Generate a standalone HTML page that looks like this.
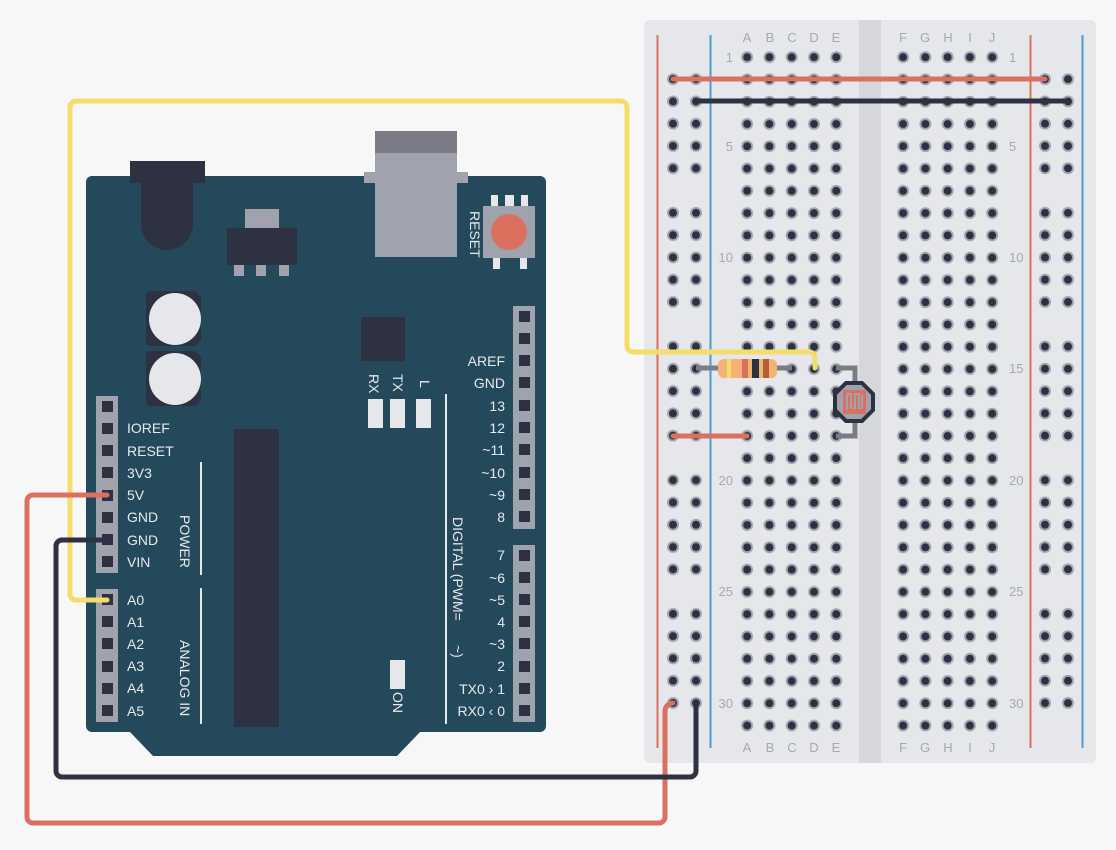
<!DOCTYPE html>
<html><head><meta charset="utf-8"><style>
html,body{margin:0;padding:0;background:#f7f7f7;}
svg{display:block;font-family:"Liberation Sans",sans-serif;}
.lb{fill:#e8e9ec;font-size:14px;}
.bb{fill:#a6a8b3;font-size:13px;}
</style></head><body>
<svg width="1116" height="850" viewBox="0 0 1116 850" xmlns="http://www.w3.org/2000/svg">
<defs>
<pattern id="h" x="736" y="46" width="22.28" height="22.28" patternUnits="userSpaceOnUse">
<circle cx="11.14" cy="11.14" r="6" fill="#a3a5b0"/><circle cx="11.14" cy="11.14" r="4" fill="#2d3142"/>
</pattern>
<pattern id="hr" x="662" y="68" width="23" height="22.28" patternUnits="userSpaceOnUse">
<circle cx="11" cy="11.14" r="6" fill="#a3a5b0"/><circle cx="11" cy="11.14" r="4" fill="#2d3142"/>
</pattern>
<pattern id="hr2" x="1034" y="68" width="23" height="22.28" patternUnits="userSpaceOnUse">
<circle cx="11" cy="11.14" r="6" fill="#a3a5b0"/><circle cx="11" cy="11.14" r="4" fill="#2d3142"/>
</pattern>
</defs>
<rect width="1116" height="850" fill="#f7f7f7"/>
<!-- breadboard -->
<rect x="644" y="20" width="452" height="743" rx="6" fill="#e6e7ea"/>
<rect x="859" y="20" width="22" height="743" fill="#d6d7da"/>
<line x1="657.5" y1="35" x2="657.5" y2="748" stroke="#dc705e" stroke-width="2"/>
<line x1="710.5" y1="35" x2="710.5" y2="748" stroke="#4a9ccc" stroke-width="2"/>
<line x1="1030.5" y1="35" x2="1030.5" y2="748" stroke="#dc705e" stroke-width="2"/>
<line x1="1082.5" y1="35" x2="1082.5" y2="748" stroke="#4a9ccc" stroke-width="2"/>
<rect x="736" y="46" width="111.4" height="690.7" fill="url(#h)"/>
<rect x="892" y="46" width="111.4" height="690.7" fill="url(#h)"/>
<g fill="url(#hr)">
<rect x="662" y="68" width="46" height="111.4"/><rect x="662" y="201.7" width="46" height="111.4"/>
<rect x="662" y="335.4" width="46" height="111.4"/><rect x="662" y="469" width="46" height="111.4"/>
<rect x="662" y="602.7" width="46" height="111.4"/>
</g>
<g fill="url(#hr2)">
<rect x="1034" y="68" width="46" height="111.4"/><rect x="1034" y="201.7" width="46" height="111.4"/>
<rect x="1034" y="335.4" width="46" height="111.4"/><rect x="1034" y="469" width="46" height="111.4"/>
<rect x="1034" y="602.7" width="46" height="111.4"/>
</g>
<g class="bb" text-anchor="middle">
<text x="747" y="42">A</text><text x="770" y="42">B</text><text x="792" y="42">C</text><text x="814" y="42">D</text><text x="836" y="42">E</text>
<text x="903" y="42">F</text><text x="925" y="42">G</text><text x="948" y="42">H</text><text x="970" y="42">I</text><text x="992" y="42">J</text>
<text x="747" y="752">A</text><text x="770" y="752">B</text><text x="792" y="752">C</text><text x="814" y="752">D</text><text x="836" y="752">E</text>
<text x="903" y="752">F</text><text x="925" y="752">G</text><text x="948" y="752">H</text><text x="970" y="752">I</text><text x="992" y="752">J</text>
</g>
<g class="bb" text-anchor="end">
<text x="733" y="62">1</text><text x="733" y="151">5</text><text x="733" y="262">10</text><text x="733" y="373">15</text><text x="733" y="485">20</text><text x="733" y="596">25</text><text x="733" y="708">30</text>
</g>
<g class="bb" text-anchor="start">
<text x="1009" y="62">1</text><text x="1009" y="151">5</text><text x="1009" y="262">10</text><text x="1009" y="373">15</text><text x="1009" y="485">20</text><text x="1009" y="596">25</text><text x="1009" y="708">30</text>
</g>
<!-- arduino -->
<path d="M92,176 H540 a6,6 0 0 1 6,6 V726 a6,6 0 0 1 -6,6 H420 L397,756 H153 L130,732 H92 a6,6 0 0 1 -6,-6 V182 a6,6 0 0 1 6,-6Z" fill="#24495b"/>
<rect x="130" y="161" width="75" height="22" fill="#2d3142"/>
<path d="M141,183 H193 V224 a26,26 0 0 1 -52,0Z" fill="#2d3142"/>
<rect x="245" y="209" width="34" height="20" fill="#a0a2ad"/>
<rect x="227" y="228" width="70" height="37" fill="#2d3142"/>
<rect x="234" y="265" width="10" height="11" fill="#a0a2ad"/><rect x="256" y="265" width="10" height="11" fill="#a0a2ad"/><rect x="279" y="265" width="10" height="11" fill="#a0a2ad"/>
<rect x="364" y="172" width="104" height="11" fill="#a0a2ad"/>
<rect x="375" y="131" width="82" height="126" fill="#a0a2ad"/>
<rect x="375" y="131" width="82" height="22" fill="#7b7c86"/>
<rect x="491" y="195" width="7" height="12" fill="#e6e7ea"/><rect x="505" y="195" width="9" height="12" fill="#e6e7ea"/><rect x="521" y="195" width="7" height="12" fill="#e6e7ea"/>
<rect x="493" y="257" width="7" height="12" fill="#e6e7ea"/><rect x="520" y="257" width="7" height="12" fill="#e6e7ea"/>
<rect x="483" y="206" width="52" height="52" fill="#a0a2ad"/>
<circle cx="509" cy="232" r="18" fill="#dc705e"/>
<text class="lb" transform="translate(470,211) rotate(90)" font-size="13">RESET</text>
<path d="M150,291 H195 L201,297 V340 L195,346 H150 a4,4 0 0 1 -4,-4 V295 a4,4 0 0 1 4,-4Z" fill="#2d3142"/>
<path d="M150,351 H195 L201,357 V400 L195,406 H150 a4,4 0 0 1 -4,-4 V355 a4,4 0 0 1 4,-4Z" fill="#2d3142"/>
<circle cx="175" cy="319" r="26" fill="#e6e7ea"/><circle cx="175" cy="379" r="26" fill="#e6e7ea"/>
<rect x="361" y="317" width="44" height="44" fill="#2d3142"/>
<text class="lb" transform="translate(369,374) rotate(90)" font-size="13">RX</text>
<text class="lb" transform="translate(393,374) rotate(90)" font-size="13">TX</text>
<text class="lb" transform="translate(420,380) rotate(90)" font-size="13">L</text>
<rect x="368" y="399" width="15" height="29" fill="#e6e7ea"/><rect x="390" y="399" width="15" height="29" fill="#e6e7ea"/><rect x="416" y="399" width="15" height="29" fill="#e6e7ea"/>
<rect x="234" y="429" width="45" height="298" fill="#2d3142"/>
<g stroke="#e6e7ea" stroke-width="2">
<line x1="201" y1="462" x2="201" y2="575"/><line x1="201" y1="588" x2="201" y2="724"/><line x1="446" y1="394" x2="446" y2="724"/>
</g>
<text class="lb" transform="translate(180,515) rotate(90)" font-size="13">POWER</text>
<text class="lb" transform="translate(180,640) rotate(90)" font-size="13">ANALOG IN</text>
<text class="lb" transform="translate(453,517) rotate(90)" font-size="13">DIGITAL (PWM=</text>
<text class="lb" transform="translate(453,645) rotate(90)" font-size="13">~)</text>
<rect x="390" y="660" width="15" height="29" fill="#e6e7ea"/>
<text class="lb" transform="translate(393,692) rotate(90)" font-size="13">ON</text>
<!-- headers -->
<rect x="96" y="396" width="22" height="177" fill="#a0a2ad"/>
<rect x="96" y="589" width="22" height="133" fill="#a0a2ad"/>
<rect x="513" y="306" width="22" height="223" fill="#a0a2ad"/>
<rect x="513" y="545" width="22" height="177" fill="#a0a2ad"/>
<g fill="#2d3142">
<rect x="102" y="401" width="11" height="11"/><rect x="102" y="423" width="11" height="11"/><rect x="102" y="445" width="11" height="11"/><rect x="102" y="467" width="11" height="11"/><rect x="102" y="490" width="11" height="11"/><rect x="102" y="512" width="11" height="11"/><rect x="102" y="534" width="11" height="11"/><rect x="102" y="556" width="11" height="11"/>
<rect x="102" y="594" width="11" height="11"/><rect x="102" y="616" width="11" height="11"/><rect x="102" y="638" width="11" height="11"/><rect x="102" y="661" width="11" height="11"/><rect x="102" y="683" width="11" height="11"/><rect x="102" y="705" width="11" height="11"/>
<rect x="519" y="311" width="11" height="11"/><rect x="519" y="333" width="11" height="11"/><rect x="519" y="355" width="11" height="11"/><rect x="519" y="377" width="11" height="11"/><rect x="519" y="400" width="11" height="11"/><rect x="519" y="422" width="11" height="11"/><rect x="519" y="444" width="11" height="11"/><rect x="519" y="467" width="11" height="11"/><rect x="519" y="489" width="11" height="11"/><rect x="519" y="511" width="11" height="11"/>
<rect x="519" y="550" width="11" height="11"/><rect x="519" y="572" width="11" height="11"/><rect x="519" y="594" width="11" height="11"/><rect x="519" y="616" width="11" height="11"/><rect x="519" y="638" width="11" height="11"/><rect x="519" y="661" width="11" height="11"/><rect x="519" y="683" width="11" height="11"/><rect x="519" y="705" width="11" height="11"/>
</g>
<g class="lb">
<text x="127" y="433">IOREF</text><text x="127" y="456">RESET</text><text x="127" y="478">3V3</text><text x="127" y="500">5V</text><text x="127" y="522">GND</text><text x="127" y="545">GND</text><text x="127" y="567">VIN</text>
<text x="127" y="605">A0</text><text x="127" y="627">A1</text><text x="127" y="649">A2</text><text x="127" y="671">A3</text><text x="127" y="693">A4</text><text x="127" y="716">A5</text>
</g>
<g class="lb" text-anchor="end">
<text x="505" y="366">AREF</text><text x="505" y="388">GND</text><text x="505" y="411">13</text><text x="505" y="433">12</text><text x="505" y="455">~11</text><text x="505" y="478">~10</text><text x="505" y="500">~9</text><text x="505" y="522">8</text>
<text x="505" y="560">7</text><text x="505" y="583">~6</text><text x="505" y="605">~5</text><text x="505" y="627">4</text><text x="505" y="649">~3</text><text x="505" y="671">2</text><text x="505" y="694">TX0 › 1</text><text x="505" y="716">RX0 ‹ 0</text>
</g>
<!-- components -->
<path d="M696,368 H792" stroke="#7b7c86" stroke-width="5"/>
<rect x="718" y="359" width="59" height="19" rx="6" fill="#f3b374"/>
<rect x="727" y="359" width="4" height="19" fill="#f6dc6a"/><rect x="742" y="359" width="6" height="19" fill="#dc705e"/><rect x="752" y="359" width="7" height="19" fill="#2d3142"/><rect x="763" y="359" width="6" height="19" fill="#b55d35"/>
<path d="M836,368 H855 V386 M855,420 V436 H836" stroke="#7b7c86" stroke-width="5" fill="none"/>
<path d="M846,383 H862 L873,394 V410 L862,421 H846 L835,410 V394Z" fill="#a0a2ad" stroke="#2d3142" stroke-width="4"/>
<rect x="843" y="390" width="23" height="24" fill="#dc705e"/>
<path d="M847,410 V394 H851 V408 H855 V394 H859 V408 H862 V394" stroke="#a0a2ad" stroke-width="2" fill="none"/>
<!-- wires -->
<g fill="none" stroke-width="5" stroke-linecap="round" stroke-linejoin="round">
<path d="M673,79 H1045" stroke="#dc705e"/>
<path d="M696,101 H1068" stroke="#2d3142"/>
<path d="M673,436 H747" stroke="#dc705e"/>
<path d="M107,600 H76 a6,6 0 0 1 -6,-6 V107 a6,6 0 0 1 6,-6 H621 a6,6 0 0 1 6,6 V346 a6,6 0 0 0 6,6 H809 a6,6 0 0 1 6,6 V368" stroke="#f6dc6a"/>
<path d="M107,495 H33 a6,6 0 0 0 -6,6 V817 a6,6 0 0 0 6,6 H659 a6,6 0 0 0 6,-6 V711 a8,8 0 0 1 8,-8" stroke="#dc705e"/>
<path d="M107,540 H62 a6,6 0 0 0 -6,6 V771 a6,6 0 0 0 6,6 H690 a6,6 0 0 0 6,-6 V703" stroke="#2d3142"/>
</g>
</svg>
</body></html>
